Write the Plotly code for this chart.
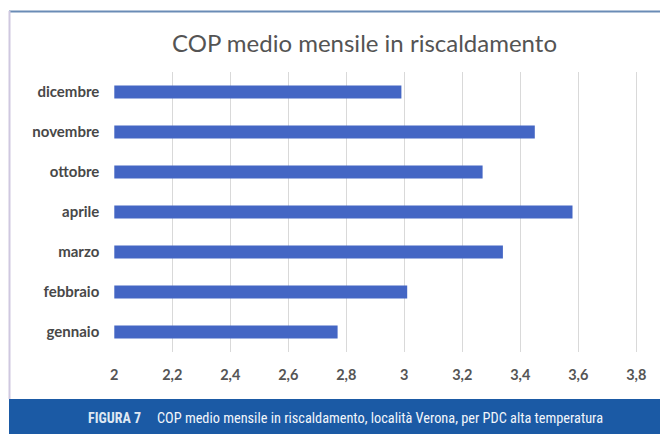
import plotly.graph_objects as go

# The page places the figure 8px from the top-left corner (body margin),
# so the figure is drawn 8px smaller to fill the 668x434 window.
OFF = 8
W, H = 668 - OFF, 434 - OFF

months = ["gennaio", "febbraio", "marzo", "aprile", "ottobre", "novembre", "dicembre"]
cop = [2.77, 3.01, 3.34, 3.58, 3.27, 3.45, 2.99]
tick_vals = [2, 2.2, 2.4, 2.6, 2.8, 3, 3.2, 3.4, 3.6, 3.8]
tick_text = ["2", "2,2", "2,4", "2,6", "2,8", "3", "3,2", "3,4", "3,6", "3,8"]

title_text = "COP medio mensile in riscaldamento"
caption_label = "FIGURA 7"
caption_text = "COP medio mensile in riscaldamento, località Verona, per PDC alta temperatura"


# pixel geometry helpers (window pixel coordinates -> paper fractions)
def px(x):
    return (x - OFF) / W


def py(y):
    return (H - (y - OFF)) / H


plot_l, plot_r, plot_t, plot_b = 114.3, 668, 72, 352
px_per_unit = 290.0
narrow = "'Liberation Sans Narrow', 'Roboto Condensed', sans-serif"

fig = go.Figure()
fig.add_trace(go.Bar(
    y=months, x=cop, orientation="h", base=0,
    marker=dict(color="#4466c4", line=dict(width=0)),
    width=0.33,
))

fig.update_layout(
    width=W, height=H,
    margin=dict(l=0, r=0, t=0, b=0),
    paper_bgcolor="#ffffff",
    plot_bgcolor="rgba(0,0,0,0)",
    showlegend=False,
    font=dict(family="Lato, 'Open Sans', sans-serif", color="#404040"),
    xaxis=dict(
        domain=[px(plot_l), px(plot_r)],
        range=[2, 2 + (plot_r - plot_l) / px_per_unit],
        tickvals=tick_vals, ticktext=tick_text,
        showgrid=True, gridcolor="#d9d9d9", gridwidth=1,
        zeroline=False, showline=False, ticks="",
        tickfont=dict(size=14.5, color="#555555", family="Lato, sans-serif", weight="bold"),
        ticklabelstandoff=12,
        automargin=False, fixedrange=True,
    ),
    yaxis=dict(
        domain=[py(plot_b), py(plot_t)],
        categoryorder="array", categoryarray=months,
        showgrid=False, zeroline=False, showline=False, ticks="",
        tickfont=dict(size=15, color="#484848", family="Lato, sans-serif", weight="bold"),
        ticklabelstandoff=14,
        automargin=False, fixedrange=True,
    ),
    shapes=[
        dict(type="rect", xref="paper", yref="paper",
             x0=px(9), x1=px(668), y0=py(434), y1=py(399),
             fillcolor="#1b5aa5", line=dict(width=0), layer="below"),
        dict(type="line", xref="paper", yref="paper",
             x0=px(9), x1=px(668), y0=py(11.5), y1=py(11.5),
             line=dict(color="#6a8cb6", width=2)),
        dict(type="line", xref="paper", yref="paper",
             x0=px(9.5), x1=px(9.5), y0=py(11), y1=py(399),
             line=dict(color="#cfc8e0", width=2)),
    ],
    annotations=[
        dict(text=title_text, xref="paper", yref="paper",
             x=px(364), y=py(42), xanchor="center", yanchor="middle",
             showarrow=False,
             font=dict(size=24, color="#545454", family="Lato, sans-serif")),
        dict(text="<b>" + caption_label + "</b>", xref="paper", yref="paper",
             x=px(86), y=py(418), xanchor="left", yanchor="middle",
             showarrow=False,
             font=dict(size=14, color="#dfe8f3", family=narrow)),
        dict(text=caption_text, xref="paper", yref="paper",
             x=px(155), y=py(418), xanchor="left", yanchor="middle",
             showarrow=False,
             font=dict(size=14.3, color="#f2f6fb", family=narrow)),
    ],
)

fig.write_html("out.html")
